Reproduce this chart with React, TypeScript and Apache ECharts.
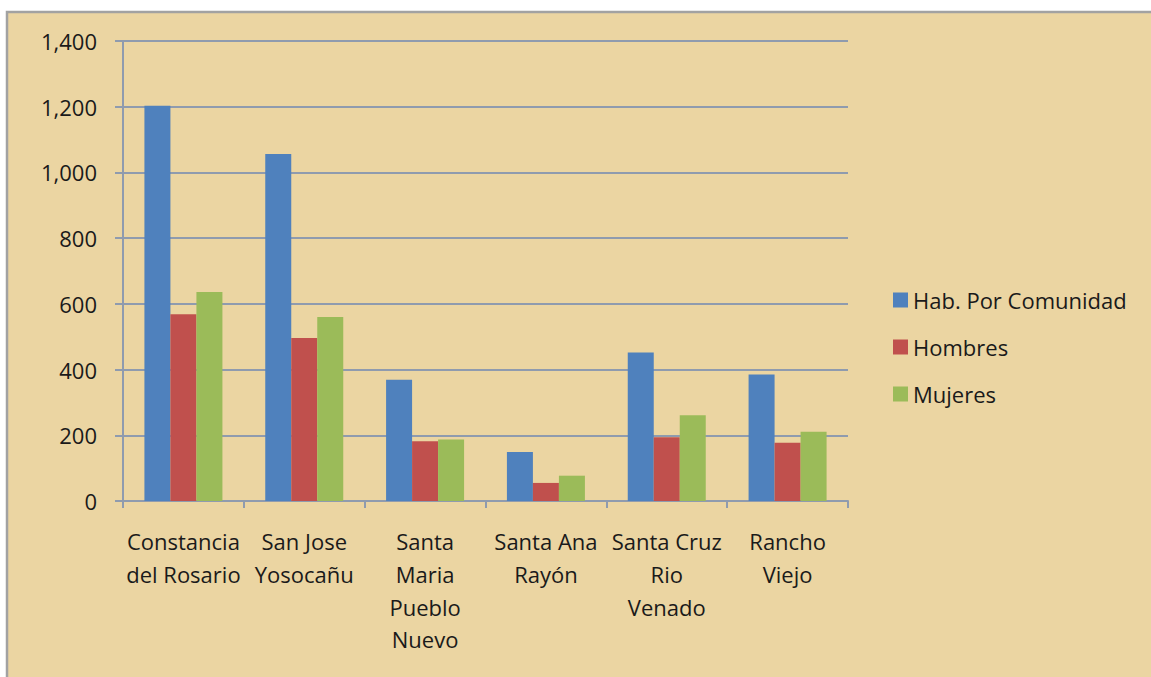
import React, { useEffect, useRef } from "react";
import * as echarts from "echarts";

const categories = [
  "Constancia\ndel Rosario",
  "San Jose\nYosocañu",
  "Santa\nMaria\nPueblo\nNuevo",
  "Santa Ana\nRayón",
  "Santa Cruz\nRio\nVenado",
  "Rancho\nViejo",
];
const habitantes = [1203, 1056, 369, 149, 452, 385];
const hombres = [568, 496, 182, 55, 194, 177];
const mujeres = [636, 560, 187, 77, 261, 211];
const seriesNames = ["Hab. Por Comunidad", "Hombres", "Mujeres"];
const colors = ["#4F81BD", "#C0504D", "#9BBB59"];

const FONT = "'Open Sans', Lato, sans-serif";
const AXIS = "#8F9BAE";

export default function App() {
  const ref = useRef<HTMLDivElement>(null);
  useEffect(() => {
    if (!ref.current) return;
    const chart = echarts.init(ref.current, undefined, { renderer: "svg" });
    const values = [habitantes, hombres, mujeres];
    chart.setOption({
      animation: false,
      backgroundColor: "#ffffff",
      graphic: [
        {
          type: "rect",
          z: -10,
          silent: true,
          shape: { x: 7, y: 12, width: 1200, height: 700 },
          style: { fill: "#EBD5A2", stroke: "#A2A2A2", lineWidth: 2.5 },
        },
      ],
      grid: { left: 123, right: 303, top: 41, bottom: 176, containLabel: false },
      legend: {
        orient: "vertical",
        left: 888,
        top: 284,
        itemWidth: 15,
        itemHeight: 15,
        itemGap: 25,
        icon: "rect",
        textStyle: { fontFamily: FONT, fontSize: 22, color: "#1a1a1a", padding: [0, 0, 0, 0] },
        data: seriesNames,
      },
      xAxis: {
        type: "category",
        data: categories,
        axisLine: { lineStyle: { color: AXIS, width: 2 } },
        axisTick: { show: true, length: 7, inside: false, alignWithLabel: false, lineStyle: { color: AXIS, width: 2 } },
        axisLabel: {
          interval: 0,
          fontFamily: FONT,
          fontSize: 22,
          color: "#1a1a1a",
          lineHeight: 32.7,
          margin: 24,
          align: "center",
        },
      },
      yAxis: {
        type: "value",
        min: 0,
        max: 1400,
        interval: 200,
        axisLine: { show: true, lineStyle: { color: AXIS, width: 2 } },
        axisTick: { show: true, length: 8, lineStyle: { color: AXIS, width: 2 } },
        splitLine: { lineStyle: { color: AXIS, width: 2 } },
        axisLabel: {
          fontFamily: FONT,
          fontSize: 22,
          color: "#1a1a1a",
          margin: 26,
          formatter: (v: number) => v.toLocaleString("en-US"),
        },
      },
      series: seriesNames.map((name, i) => ({
        name,
        type: "bar",
        data: values[i],
        barWidth: 26,
        barGap: "0%",
        itemStyle: { color: colors[i] },
      })),
    });
    return () => chart.dispose();
  }, []);
  return (
    <div
      ref={ref}
      style={{ position: "fixed", left: 0, top: 0, width: 1151, height: 677 }}
    />
  );
}
